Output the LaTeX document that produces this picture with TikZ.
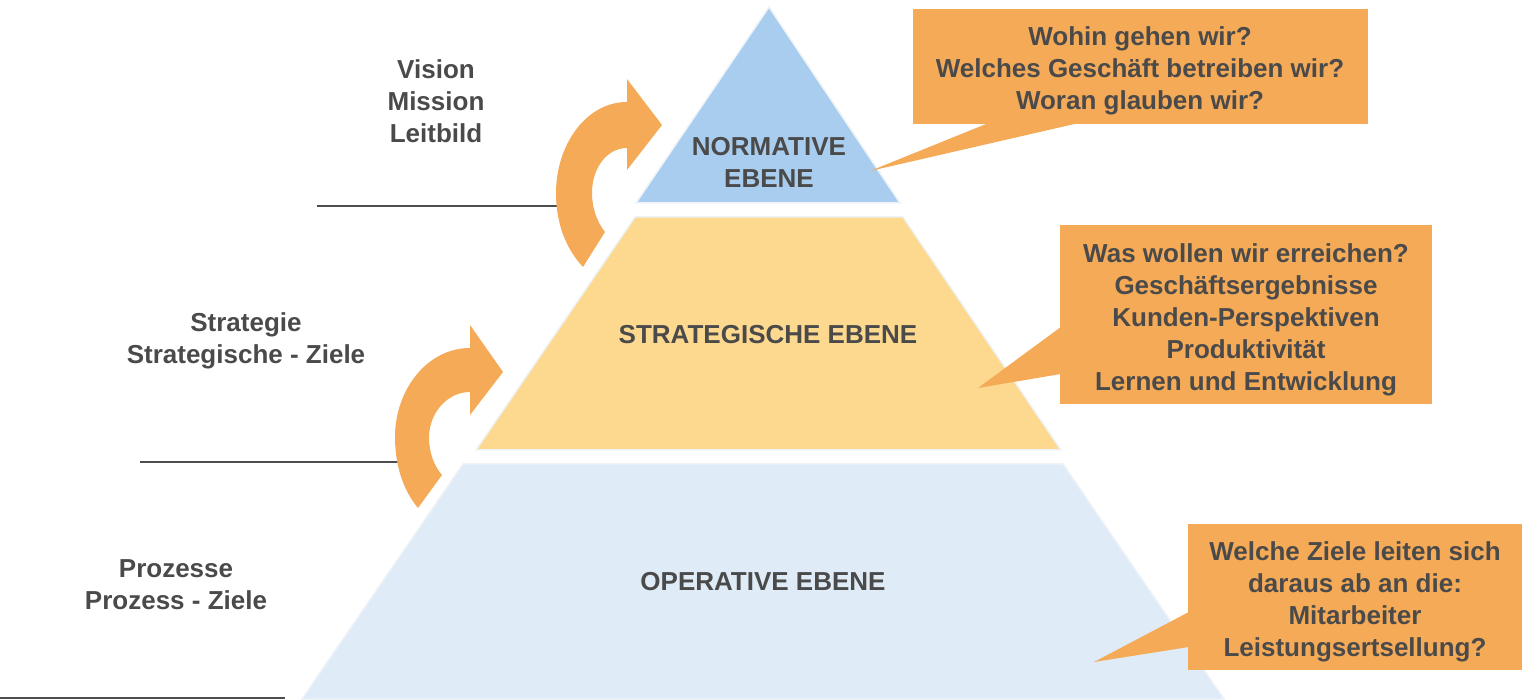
\documentclass[tikz,border=0pt]{standalone}
\usepackage{fontspec}
\setmainfont{Liberation Sans}
\usetikzlibrary{calc}
\definecolor{txt}{HTML}{4A4A4A}
\definecolor{org}{HTML}{F5AA57}
\definecolor{topblue}{HTML}{A9CDEE}
\definecolor{midyel}{HTML}{FDD98F}
\definecolor{lowblue}{HTML}{DFEBF7}
\definecolor{edge}{HTML}{EEF3F8}
\definecolor{rulec}{HTML}{4D4D4D}
\begin{document}
\begin{tikzpicture}[x=1pt,y=-1pt,
  lbl/.style={text=txt, font=\bfseries\fontsize{26}{32}\selectfont, align=center, inner sep=0pt},
  callout/.style={fill=org, inner sep=0pt, minimum width=#1},
  layer/.style={draw=edge, line width=1.5pt},
  rulerline/.style={draw=rulec, line width=2pt},
  turnarrow/.style={fill=org}]
\useasboundingbox (0,0) rectangle (1527,700);

% pyramid layers
\path[layer, fill=topblue] (769,7) -- (900,203) -- (636,203) -- cycle;
\path[layer, fill=midyel] (635,217) -- (903,217) -- (1061,450) -- (476,450) -- cycle;
\path[layer, fill=lowblue] (463,464) -- (1063,464) -- (1224,699) -- (302,699) -- cycle;

\node[lbl] (norm) at (769,162) {NORMATIVE\\EBENE};
\node[lbl] (strat) at (768,335) {STRATEGISCHE EBENE};
\node[lbl] (oper) at (763,582) {OPERATIVE EBENE};

% level lines
\coordinate (r1a) at (317,206); \coordinate (r1b) at (560,206);
\coordinate (r2a) at (140,462); \coordinate (r2b) at (400,462);
\coordinate (r3a) at (0,698);   \coordinate (r3b) at (285,698);
\draw[rulerline] (r1a) -- (r1b);
\draw[rulerline] (r2a) -- (r2b);
\draw[rulerline] (r3a) -- (r3b);

% curved arrows
\fill[turnarrow] (583,267) .. controls (567,250) and (556,225) .. (556,193)
  .. controls (556,145) and (586,102) .. (627,102) -- (627,79) -- (662,125)
  -- (627,170) -- (627,148) .. controls (607,148) and (592,168) .. (592,193)
  .. controls (592,208) and (597,222) .. (605,232) -- cycle;
\fill[turnarrow] (418,508) .. controls (403,490) and (395,465) .. (395,437)
  .. controls (395,390) and (427,348) .. (470,348) -- (470,325) -- (503,372)
  -- (470,415) -- (470,392) .. controls (448,392) and (429,412) .. (429,438)
  .. controls (429,452) and (434,466) .. (442,475) -- cycle;

% left labels
\node[lbl] (vis) at (436,101) {Vision\\Mission\\Leitbild};
\node[lbl] (strz) at (246,341) {Strategie\\Strategische - Ziele};
\node[lbl] (proz) at (176,585) {Prozesse\\Prozess - Ziele};

% callouts
\node[callout=455pt, minimum height=115pt] (q1) at (1140.5,66.5) {};
\coordinate (t1) at (870,171);
\fill[org] ([xshift=-152.5pt,yshift=1pt]q1.south) -- (t1) -- ([xshift=-62.5pt,yshift=1pt]q1.south) -- cycle;
\node[lbl] (q1t) at ([xshift=-0.5pt,yshift=-4.5pt]q1.center)
  {Wohin gehen wir?\\Welches Geschäft betreiben wir?\\Woran glauben wir?};

\node[callout=372pt, minimum height=179pt] (q2) at (1246,314.5) {};
\coordinate (t2) at (978,388);
\fill[org] ([xshift=1pt,yshift=-12.5pt]q2.west) -- (t2) -- ([xshift=1pt,yshift=-59.5pt]q2.west) -- cycle;
\node[lbl] (q2t) at ([yshift=-5pt]q2.center)
  {Was wollen wir erreichen?\\Geschäftsergebnisse\\Kunden-Perspektiven\\Produktivität\\Lernen und Entwicklung};

\node[callout=334pt, minimum height=146pt] (q3) at (1355,597) {};
\coordinate (t3) at (1094,662);
\fill[org] ([xshift=1pt,yshift=-15pt]q3.west) -- (t3) -- ([xshift=1pt,yshift=-50pt]q3.west) -- cycle;
\node[lbl] (q3t) at ([yshift=-5pt]q3.center)
  {Welche Ziele leiten sich\\daraus ab an die:\\Mitarbeiter\\Leistungsertsellung?};
\end{tikzpicture}
\end{document}
